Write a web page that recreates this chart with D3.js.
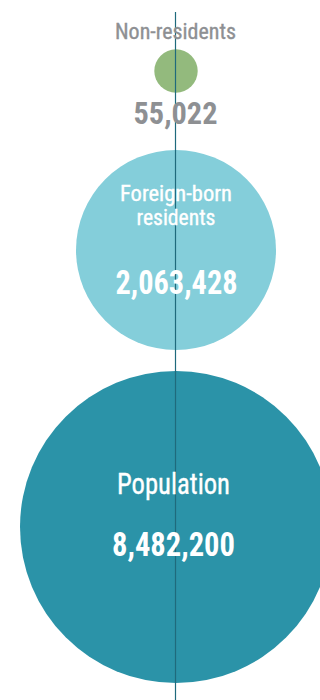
<!DOCTYPE html>
<html>
<head>
<meta charset="utf-8">
<script src="https://cdn.jsdelivr.net/npm/d3@7"></script>
<style>
  body { margin: 0; background: #fff; }
  svg { display: block; }
</style>
</head>
<body>
<div id="chart"></div>
<script>
// Data
const categories = ['Non-residents', 'Foreign-born residents', 'Population'];
const values = [55022, 2063428, 8482200];
const labelLines = [['Non-residents'], ['Foreign-born', 'residents'], ['Population']];

const width = 320;
const height = 700;
const cx = 176;
const colors = d3.scaleOrdinal().domain(categories).range(['#93ba7d', '#84ceda', '#2b93a8']);

// Bubble radius from value (not strictly area-true in the original)
const rScale = d3.scaleSqrt()
    .domain(values)
    .range([21.7, 100, 156]);

// Stack circles vertically with gaps
const gaps = [49.3, 57.3, 21];
let cursor = 0;
const nodes = categories.map((c, i) => {
    const r = rScale(values[i]);
    cursor += gaps[i];
    const node = { name: c, value: values[i], r: r, cy: cursor + r, lines: labelLines[i] };
    cursor += 2 * r;
    return node;
});

const svg = d3.select('#chart').append('svg')
    .attr('width', width)
    .attr('height', height);

const fmt = d3.format(',');
const font = "'Liberation Sans Narrow', 'Roboto Condensed', 'Liberation Sans', sans-serif";

svg.selectAll('circle')
    .data(nodes)
    .enter().append('circle')
    .attr('cx', cx)
    .attr('cy', d => d.cy)
    .attr('r', d => d.r)
    .attr('fill', d => colors(d.name));

// vertical axis line through all bubbles
svg.append('line')
    .attr('x1', cx - 0.5).attr('x2', cx - 0.5)
    .attr('y1', 12).attr('y2', height)
    .attr('stroke', '#1f6a7c')
    .attr('stroke-width', 1.2);

function addText(str, x, y, size, weight, color, len) {
    const t = svg.append('text')
        .attr('x', x)
        .attr('y', y)
        .attr('text-anchor', 'middle')
        .attr('textLength', len)
        .attr('lengthAdjust', 'spacingAndGlyphs')
        .style('font-family', font)
        .style('font-size', size + 'px')
        .style('font-weight', weight)
        .style('fill', color)
        .text(str);
    // original labels are a touch heavier than plain regular
    if (weight === 'normal') t.style('stroke', color).style('stroke-width', 0.35);
}

// Non-residents: label above, value below, grey
const n0 = nodes[0];
addText(n0.lines[0], cx - 0.5, n0.cy - n0.r - 10.3, 22, 'normal', '#8e9093', 121);
addText(fmt(n0.value), cx - 0.5, n0.cy + n0.r + 31.3, 31, 'bold', '#8e9093', 84);

// Foreign-born residents: inside, white
const n1 = nodes[1];
addText(n1.lines[0], cx, n1.cy - 49.3, 22.5, 'normal', '#fff', 112);
addText(n1.lines[1], cx, n1.cy - 25, 22.5, 'normal', '#fff', 79);
addText(fmt(n1.value), cx + 0.5, n1.cy + 44, 32.5, 'bold', '#fff', 122);

// Population: inside, white
const n2 = nodes[2];
addText(n2.lines[0], cx - 2.5, n2.cy - 32.7, 29, 'normal', '#fff', 113);
addText(fmt(n2.value), cx - 2.5, n2.cy + 29, 33.5, 'bold', '#fff', 123);
</script>
</body>
</html>
